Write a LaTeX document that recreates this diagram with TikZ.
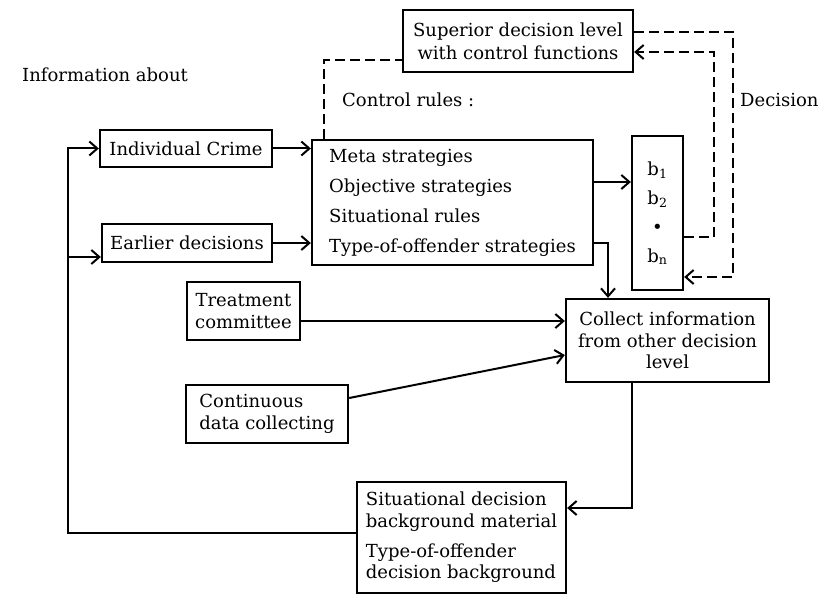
\documentclass[tikz,border=0pt]{standalone}
\usepackage{fontspec}
\setmainfont{DejaVu Serif}
\usetikzlibrary{arrows.meta,calc}
\begin{document}
\begin{tikzpicture}[x=1pt,y=-1pt,
  every node/.style={font=\fontsize{18}{21.5}\selectfont},
  box/.style={draw,line width=2.3pt,inner sep=0pt},
  link/.style={line width=2pt},
  arr/.style={link,-{Straight Barb[length=8pt,width=14pt,line width=2pt]}},
  dline/.style={link,dash pattern=on 10pt off 5pt},
  darr/.style={dline,-{Straight Barb[length=8pt,width=14pt,line width=2pt]}}]
\useasboundingbox (0,0) rectangle (834,596);

% boxes
\node[box,minimum width=230pt,minimum height=62pt,align=center,
      font=\fontsize{18}{23}\selectfont] (sup) at (518,41)
  {Superior decision level\\with control functions};
\node[box,minimum width=281pt,minimum height=125pt,align=left,
      font=\fontsize{18}{30}\selectfont] (main) at (452.5,202.5)
  {Meta strategies\\Objective strategies\\Situational rules\\Type-of-offender strategies};
\node[box,minimum width=51pt,minimum height=154pt,align=center,
      font=\fontsize{18}{29}\selectfont] (b) at (657.5,213)
  {b\textsubscript{1}\\b\textsubscript{2}\\•\\b\textsubscript{n}};
\node[box,minimum width=172pt,minimum height=37pt] (indiv) at (186,148.5) {Individual Crime};
\node[box,minimum width=170pt,minimum height=38pt] (earlier) at (187,243) {Earlier decisions};
\node[box,minimum width=113pt,minimum height=58pt,align=center] (treat) at (243.5,311)
  {Treatment\\committee};
\node[box,minimum width=162pt,minimum height=58pt,align=left] (cont) at (267,414)
  {Continuous\\data collecting};
\node[box,minimum width=203pt,minimum height=83pt,align=center] (coll) at (667.5,340.5)
  {Collect information\\from other decision\\level};
\node[box,minimum width=209pt,minimum height=111pt,align=left] (situ) at (461.5,537.5)
  {Situational decision\\background material\\[8.5pt]Type-of-offender\\decision background};

% labels
\node[anchor=west,inner sep=0pt] (info) at (22,75) {Information about};
\node[anchor=west,inner sep=0pt] (crl) at (342,100) {Control rules :};
\node[anchor=west,inner sep=0pt] (dec) at (740,100) {Decision};

% coordinates of the left loop
\coordinate (lx) at (68,533);
\coordinate (ly) at (68,257);

% connectors
\draw[dline] ([xshift=13pt]main.north west) |- ([yshift=-19pt]sup.west);
\draw[darr] ([yshift=9pt]sup.east) -- ++(99,0) |- ([yshift=-64pt]b.east);
\draw[darr] ([yshift=-24pt]b.east) -- ++(30,0) |- ([yshift=-11pt]sup.east);

\draw[arr] (indiv.east) -- (indiv.east -| main.west);
\draw[arr] (earlier.east) -- (earlier.east -| main.west);
\draw[arr] ([yshift=20.5pt]main.east) -- ([yshift=20.5pt]main.east -| b.west);
\draw[arr] ([yshift=-40.5pt]main.east) -| ([xshift=-59.5pt]coll.north);
\draw[arr] ([yshift=-10pt]treat.east) -- ([yshift=-10pt]treat.east -| coll.west);
\draw[arr] ([yshift=16pt]cont.east) -- ([yshift=-14.5pt]coll.west);
\draw[arr] ([xshift=-35.5pt]coll.south) |- ([yshift=29.5pt]situ.east);
\draw[arr] ([yshift=4.5pt]situ.west) -- (lx) |- (indiv.west);
\draw[arr] (ly) -- (ly -| earlier.west);
\end{tikzpicture}
\end{document}
